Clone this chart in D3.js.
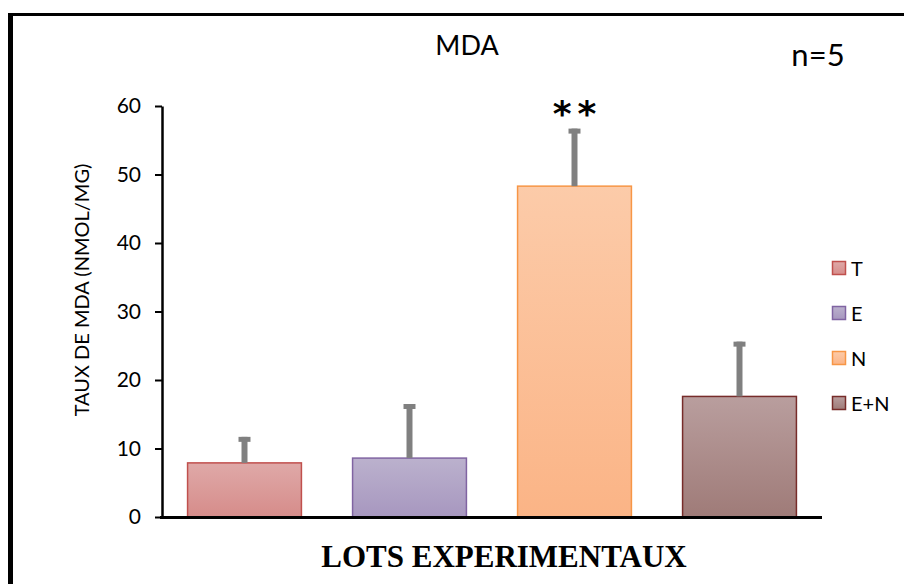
<!DOCTYPE html>
<html><head><meta charset="utf-8">
<script src="https://cdn.jsdelivr.net/npm/d3@7"></script>
<style>html,body{margin:0;padding:0;background:#fff;}svg{display:block;}</style>
</head><body>
<script>
const categories = ["T", "E", "N", "E+N"];
const values = [7.9, 8.6, 48.3, 17.6];
const errors = [3.8, 7.9, 8.4, 8.0];
const yTicks = [0, 10, 20, 30, 40, 50, 60];
const fillTop = ["#dfa9a8", "#bbb1cd", "#fccba9", "#b99e9e"];
const fillBottom = ["#d68c8a", "#a797bf", "#fbb486", "#9f7b78"];
const strokes = ["#c0504d", "#8064a2", "#f79646", "#772c2a"];

const W = 904, H = 584;
const sans = "Lato, sans-serif";
const svg = d3.select("body").append("svg").attr("width", W).attr("height", H);

// frame
svg.append("line").attr("x1", 10.5).attr("x2", 10.5).attr("y1", 13).attr("y2", H).attr("stroke", "#000").attr("stroke-width", 5);
svg.append("line").attr("x1", 8).attr("x2", W).attr("y1", 14.5).attr("y2", 14.5).attr("stroke", "#000").attr("stroke-width", 3);

const x = d3.scaleBand().domain(categories).range([162, 822]).paddingInner(0.31).paddingOuter(0.155);
const y = d3.scaleLinear().domain([0, 60]).range([517, 106]);

const defs = svg.append("defs");
categories.forEach((c, i) => {
  const g = defs.append("linearGradient").attr("id", "g" + i).attr("x1", 0).attr("y1", 0).attr("x2", 0).attr("y2", 1);
  g.append("stop").attr("offset", "0%").attr("stop-color", fillTop[i]);
  g.append("stop").attr("offset", "100%").attr("stop-color", fillBottom[i]);
});

// bars
svg.selectAll("rect.bar").data(categories).join("rect").attr("class", "bar")
  .attr("x", d => x(d)).attr("width", x.bandwidth())
  .attr("y", (d, i) => y(values[i])).attr("height", (d, i) => y(0) - y(values[i]))
  .attr("fill", (d, i) => `url(#g${i})`).attr("stroke", (d, i) => strokes[i]).attr("stroke-width", 1.5);

// error bars
categories.forEach((c, i) => {
  const cx = x(c) + x.bandwidth() / 2;
  svg.append("line").attr("x1", cx).attr("x2", cx).attr("y1", y(values[i])).attr("y2", y(values[i] + errors[i]))
    .attr("stroke", "#808080").attr("stroke-width", 6);
  svg.append("line").attr("x1", cx - 6).attr("x2", cx + 6).attr("y1", y(values[i] + errors[i]) + 2.5).attr("y2", y(values[i] + errors[i]) + 2.5)
    .attr("stroke", "#808080").attr("stroke-width", 5);
});

// axes
const yAxis = svg.append("g").attr("transform", "translate(162,0)")
  .call(d3.axisLeft(y).tickValues(yTicks).tickSize(7).tickSizeOuter(0).tickPadding(14));
yAxis.select(".domain").attr("stroke", "#000").attr("stroke-width", 2.5);
yAxis.selectAll(".tick line").attr("stroke", "#000").attr("stroke-width", 2);
yAxis.selectAll(".tick text").attr("font-family", sans).attr("font-size", 21).attr("fill", "#000");

svg.append("line").attr("x1", 160).attr("x2", 822).attr("y1", 517.5).attr("y2", 517.5).attr("stroke", "#000").attr("stroke-width", 3);

// titles
svg.append("text").attr("x", 467).attr("y", 55).attr("text-anchor", "middle")
  .attr("font-family", sans).attr("font-size", 27).text("MDA");
svg.append("text").attr("x", 818).attr("y", 66).attr("text-anchor", "middle")
  .attr("font-family", sans).attr("font-size", 31).text("n=5");
svg.append("text").attr("x", x("N") + x.bandwidth() / 2 + 3).attr("y", 126).attr("text-anchor", "middle")
  .attr("font-family", "'DejaVu Sans', sans-serif").attr("font-weight", "bold").attr("font-size", 36).attr("letter-spacing", 6).text("**");
svg.append("text").attr("transform", "translate(89,290) rotate(-90)").attr("text-anchor", "middle")
  .attr("font-family", sans).attr("font-size", 20).text("TAUX DE MDA (NMOL/MG)");
svg.append("text").attr("x", 504).attr("y", 567).attr("text-anchor", "middle")
  .attr("font-family", "'Liberation Serif', serif").attr("font-weight", "bold").attr("font-size", 31).text("LOTS EXPERIMENTAUX");

// legend
const legY = [268, 313, 358, 403];
categories.forEach((c, i) => {
  svg.append("rect").attr("x", 832.5).attr("y", legY[i] - 6.5).attr("width", 13).attr("height", 13)
    .attr("fill", `url(#g${i})`).attr("stroke", strokes[i]).attr("stroke-width", 1.5);
  svg.append("text").attr("x", 851).attr("y", legY[i] + 7.5).attr("font-family", sans).attr("font-size", 20).text(c);
});
</script>
</body></html>
